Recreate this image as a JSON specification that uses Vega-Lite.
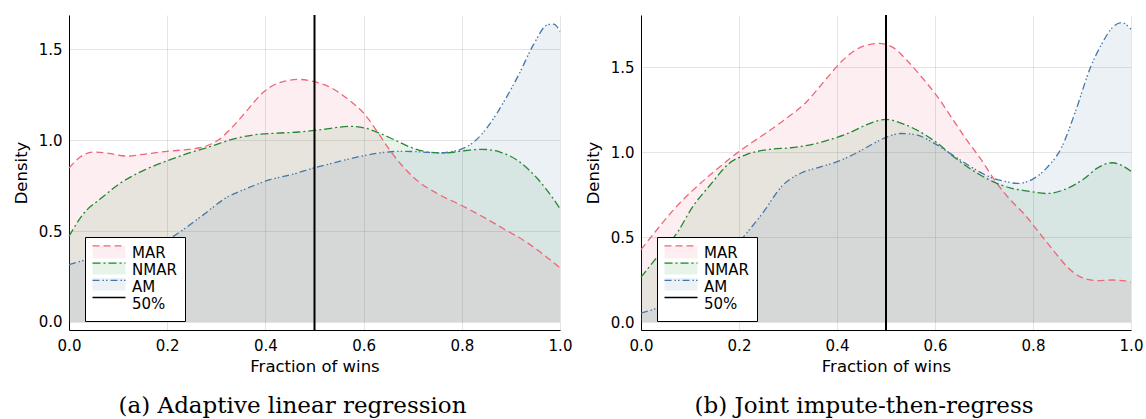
{
  "$schema": "https://vega.github.io/schema/vega-lite/v6.json",
  "padding": {"left": 13, "top": 14, "right": 0, "bottom": 0},
  "autosize": {"type": "pad"},
  "background": "white",
  "spacing": 13,
  "config": {
    "view": {"stroke": null},
    "axis": {
      "domainColor": "black", "domainWidth": 1, "grid": true, "gridColor": "black", "gridOpacity": 0.1, "gridWidth": 1,
      "ticks": false, "labelFont": "DejaVu Sans", "labelFontSize": 15, "labelColor": "black",
      "titleFont": "DejaVu Sans", "titleFontSize": 16.5, "titleFontWeight": "normal", "titleColor": "black",
      "labelPadding": 7, "labelOverlap": false, "labelFlush": false
    },
    "title": {"font": "DejaVu Serif", "fontSize": 23, "fontWeight": "normal", "color": "black"}
  },
  "datasets": {
    "a": [
      {"x":0,"y":0.846,"s":"MAR"},{"x":0.028,"y":0.916,"s":"MAR"},{"x":0.05,"y":0.934,"s":"MAR"},{"x":0.08,"y":0.927,"s":"MAR"},{"x":0.118,"y":0.912,"s":"MAR"},{"x":0.155,"y":0.923,"s":"MAR"},{"x":0.2,"y":0.938,"s":"MAR"},{"x":0.245,"y":0.949,"s":"MAR"},{"x":0.274,"y":0.962,"s":"MAR"},{"x":0.304,"y":1.0,"s":"MAR"},{"x":0.334,"y":1.075,"s":"MAR"},{"x":0.364,"y":1.167,"s":"MAR"},{"x":0.394,"y":1.258,"s":"MAR"},{"x":0.424,"y":1.311,"s":"MAR"},{"x":0.468,"y":1.333,"s":"MAR"},{"x":0.498,"y":1.322,"s":"MAR"},{"x":0.528,"y":1.295,"s":"MAR"},{"x":0.565,"y":1.231,"s":"MAR"},{"x":0.603,"y":1.139,"s":"MAR"},{"x":0.632,"y":1.029,"s":"MAR"},{"x":0.655,"y":0.938,"s":"MAR"},{"x":0.677,"y":0.864,"s":"MAR"},{"x":0.707,"y":0.782,"s":"MAR"},{"x":0.752,"y":0.703,"s":"MAR"},{"x":0.796,"y":0.645,"s":"MAR"},{"x":0.841,"y":0.581,"s":"MAR"},{"x":0.886,"y":0.511,"s":"MAR"},{"x":0.931,"y":0.44,"s":"MAR"},{"x":0.975,"y":0.352,"s":"MAR"},{"x":1.0,"y":0.297,"s":"MAR"},
      {"x":0,"y":0.471,"s":"NMAR"},{"x":0.028,"y":0.59,"s":"NMAR"},{"x":0.066,"y":0.681,"s":"NMAR"},{"x":0.103,"y":0.76,"s":"NMAR"},{"x":0.155,"y":0.837,"s":"NMAR"},{"x":0.2,"y":0.886,"s":"NMAR"},{"x":0.245,"y":0.929,"s":"NMAR"},{"x":0.289,"y":0.965,"s":"NMAR"},{"x":0.334,"y":1.005,"s":"NMAR"},{"x":0.379,"y":1.029,"s":"NMAR"},{"x":0.424,"y":1.038,"s":"NMAR"},{"x":0.468,"y":1.044,"s":"NMAR"},{"x":0.513,"y":1.057,"s":"NMAR"},{"x":0.573,"y":1.075,"s":"NMAR"},{"x":0.603,"y":1.066,"s":"NMAR"},{"x":0.632,"y":1.038,"s":"NMAR"},{"x":0.662,"y":1.002,"s":"NMAR"},{"x":0.7,"y":0.956,"s":"NMAR"},{"x":0.737,"y":0.932,"s":"NMAR"},{"x":0.767,"y":0.929,"s":"NMAR"},{"x":0.804,"y":0.941,"s":"NMAR"},{"x":0.841,"y":0.949,"s":"NMAR"},{"x":0.878,"y":0.934,"s":"NMAR"},{"x":0.916,"y":0.883,"s":"NMAR"},{"x":0.953,"y":0.791,"s":"NMAR"},{"x":0.983,"y":0.69,"s":"NMAR"},{"x":1.0,"y":0.623,"s":"NMAR"},
      {"x":0,"y":0.315,"s":"AM"},{"x":0.028,"y":0.337,"s":"AM"},{"x":0.07,"y":0.36,"s":"AM"},{"x":0.12,"y":0.39,"s":"AM"},{"x":0.17,"y":0.42,"s":"AM"},{"x":0.207,"y":0.462,"s":"AM"},{"x":0.237,"y":0.516,"s":"AM"},{"x":0.274,"y":0.59,"s":"AM"},{"x":0.319,"y":0.681,"s":"AM"},{"x":0.364,"y":0.736,"s":"AM"},{"x":0.409,"y":0.782,"s":"AM"},{"x":0.453,"y":0.81,"s":"AM"},{"x":0.498,"y":0.846,"s":"AM"},{"x":0.543,"y":0.877,"s":"AM"},{"x":0.588,"y":0.907,"s":"AM"},{"x":0.632,"y":0.929,"s":"AM"},{"x":0.677,"y":0.938,"s":"AM"},{"x":0.722,"y":0.934,"s":"AM"},{"x":0.752,"y":0.929,"s":"AM"},{"x":0.796,"y":0.947,"s":"AM"},{"x":0.826,"y":0.993,"s":"AM"},{"x":0.856,"y":1.084,"s":"AM"},{"x":0.886,"y":1.212,"s":"AM"},{"x":0.916,"y":1.359,"s":"AM"},{"x":0.946,"y":1.524,"s":"AM"},{"x":0.975,"y":1.634,"s":"AM"},{"x":0.987,"y":1.637,"s":"AM"},{"x":1.0,"y":1.597,"s":"AM"}
    ],
    "b": [
      {"x":0,"y":0.426,"s":"MAR"},{"x":0.03,"y":0.534,"s":"MAR"},{"x":0.067,"y":0.662,"s":"MAR"},{"x":0.104,"y":0.77,"s":"MAR"},{"x":0.142,"y":0.868,"s":"MAR"},{"x":0.179,"y":0.956,"s":"MAR"},{"x":0.201,"y":1.005,"s":"MAR"},{"x":0.246,"y":1.094,"s":"MAR"},{"x":0.291,"y":1.186,"s":"MAR"},{"x":0.336,"y":1.29,"s":"MAR"},{"x":0.38,"y":1.437,"s":"MAR"},{"x":0.41,"y":1.535,"s":"MAR"},{"x":0.447,"y":1.614,"s":"MAR"},{"x":0.485,"y":1.639,"s":"MAR"},{"x":0.515,"y":1.614,"s":"MAR"},{"x":0.544,"y":1.535,"s":"MAR"},{"x":0.574,"y":1.437,"s":"MAR"},{"x":0.604,"y":1.329,"s":"MAR"},{"x":0.634,"y":1.202,"s":"MAR"},{"x":0.664,"y":1.074,"s":"MAR"},{"x":0.694,"y":0.956,"s":"MAR"},{"x":0.723,"y":0.829,"s":"MAR"},{"x":0.753,"y":0.721,"s":"MAR"},{"x":0.783,"y":0.632,"s":"MAR"},{"x":0.813,"y":0.524,"s":"MAR"},{"x":0.843,"y":0.416,"s":"MAR"},{"x":0.872,"y":0.318,"s":"MAR"},{"x":0.902,"y":0.259,"s":"MAR"},{"x":0.932,"y":0.243,"s":"MAR"},{"x":0.962,"y":0.247,"s":"MAR"},{"x":1.0,"y":0.236,"s":"MAR"},
      {"x":0,"y":0.263,"s":"NMAR"},{"x":0.037,"y":0.397,"s":"NMAR"},{"x":0.075,"y":0.53,"s":"NMAR"},{"x":0.104,"y":0.672,"s":"NMAR"},{"x":0.142,"y":0.809,"s":"NMAR"},{"x":0.179,"y":0.931,"s":"NMAR"},{"x":0.216,"y":0.986,"s":"NMAR"},{"x":0.261,"y":1.015,"s":"NMAR"},{"x":0.306,"y":1.025,"s":"NMAR"},{"x":0.343,"y":1.041,"s":"NMAR"},{"x":0.38,"y":1.068,"s":"NMAR"},{"x":0.425,"y":1.113,"s":"NMAR"},{"x":0.47,"y":1.172,"s":"NMAR"},{"x":0.5,"y":1.192,"s":"NMAR"},{"x":0.529,"y":1.172,"s":"NMAR"},{"x":0.567,"y":1.123,"s":"NMAR"},{"x":0.604,"y":1.054,"s":"NMAR"},{"x":0.641,"y":0.966,"s":"NMAR"},{"x":0.679,"y":0.888,"s":"NMAR"},{"x":0.716,"y":0.829,"s":"NMAR"},{"x":0.753,"y":0.789,"s":"NMAR"},{"x":0.79,"y":0.77,"s":"NMAR"},{"x":0.828,"y":0.756,"s":"NMAR"},{"x":0.865,"y":0.78,"s":"NMAR"},{"x":0.902,"y":0.838,"s":"NMAR"},{"x":0.932,"y":0.907,"s":"NMAR"},{"x":0.962,"y":0.937,"s":"NMAR"},{"x":0.984,"y":0.917,"s":"NMAR"},{"x":1.0,"y":0.887,"s":"NMAR"},
      {"x":0,"y":0.053,"s":"AM"},{"x":0.034,"y":0.082,"s":"AM"},{"x":0.08,"y":0.13,"s":"AM"},{"x":0.12,"y":0.22,"s":"AM"},{"x":0.16,"y":0.33,"s":"AM"},{"x":0.209,"y":0.5,"s":"AM"},{"x":0.246,"y":0.632,"s":"AM"},{"x":0.291,"y":0.809,"s":"AM"},{"x":0.328,"y":0.878,"s":"AM"},{"x":0.365,"y":0.911,"s":"AM"},{"x":0.403,"y":0.946,"s":"AM"},{"x":0.44,"y":0.995,"s":"AM"},{"x":0.477,"y":1.054,"s":"AM"},{"x":0.507,"y":1.094,"s":"AM"},{"x":0.529,"y":1.109,"s":"AM"},{"x":0.559,"y":1.103,"s":"AM"},{"x":0.597,"y":1.054,"s":"AM"},{"x":0.634,"y":0.986,"s":"AM"},{"x":0.671,"y":0.917,"s":"AM"},{"x":0.708,"y":0.858,"s":"AM"},{"x":0.746,"y":0.825,"s":"AM"},{"x":0.768,"y":0.815,"s":"AM"},{"x":0.798,"y":0.838,"s":"AM"},{"x":0.828,"y":0.907,"s":"AM"},{"x":0.858,"y":1.025,"s":"AM"},{"x":0.887,"y":1.241,"s":"AM"},{"x":0.917,"y":1.496,"s":"AM"},{"x":0.94,"y":1.634,"s":"AM"},{"x":0.962,"y":1.732,"s":"AM"},{"x":0.981,"y":1.761,"s":"AM"},{"x":1.0,"y":1.722,"s":"AM"}
    ],
    "ref": [{"x": 0.5, "s": "50%"}]
  },
  "resolve": {
    "scale": {"x": "independent", "y": "independent", "fill": "independent", "stroke": "independent", "strokeDash": "independent"},
    "legend": {"fill": "independent", "stroke": "independent", "strokeDash": "independent"}
  },
  "hconcat": [
    {
      "width": 491, "height": 315,
      "title": {"text": "(a) Adaptive linear regression", "orient": "bottom", "anchor": "middle", "frame": "bounds", "offset": 20},
      "layer": [
        {
          "data": {"name": "a"},
          "mark": {"type": "area", "fillOpacity": 0.1, "interpolate": "monotone"},
          "encoding": {
            "x": {"field": "x", "type": "quantitative", "scale": {"domain": [0, 1], "nice": false}, "axis": {"title": "Fraction of wins", "values": [0, 0.2, 0.4, 0.6, 0.8, 1], "format": ".1f", "labelPadding": 8, "titlePadding": 5}},
            "y": {"field": "y", "type": "quantitative", "stack": null, "scale": {"domain": [-0.044, 1.687], "nice": false, "zero": false}, "axis": {"title": "Density", "values": [0, 0.5, 1, 1.5], "format": ".1f", "titlePadding": 9}},
            "y2": {"datum": 0},
            "fill": {"field": "s", "type": "nominal", "scale": {"domain": ["MAR", "NMAR", "AM", " "], "range": ["#EE6677", "#228833", "#4477AA", "transparent"]},
              "legend": {"orient": "none", "legendX": 16, "legendY": 222, "title": null, "symbolType": "M-2.75,-1.1L2.75,-1.1L2.75,1L-2.75,1Z", "symbolSize": 144, "symbolOpacity": 0.1, "symbolStrokeWidth": 0, "symbolOffset": 8.5, "labelExpr": "'\u00a0'", "labelOffset": 15.5, "labelFont": "DejaVu Sans", "labelFontSize": 15, "padding": 8, "rowPadding": -0.8, "zindex": 1}}
          }
        },
        {
          "data": {"name": "a"},
          "mark": {"type": "line", "strokeWidth": 1.3, "interpolate": "monotone"},
          "encoding": {
            "x": {"field": "x", "type": "quantitative"},
            "y": {"field": "y", "type": "quantitative"},
            "stroke": {"field": "s", "type": "nominal", "scale": {"domain": ["MAR", "NMAR", "AM", "50%"], "range": ["#EE6677", "#228833", "#4477AA", "#000000"]},
              "legend": {"orient": "none", "legendX": 16, "legendY": 222, "title": null, "symbolType": "M-2.75,-1.1L2.75,-1.1", "symbolSize": 144, "symbolStrokeWidth": 1.3, "symbolFillColor": "transparent", "symbolOffset": 8.5, "labelOffset": 15.5, "labelFont": "DejaVu Sans", "labelFontSize": 15, "labelColor": "black", "padding": 8, "rowPadding": -0.8, "fillColor": "white", "strokeColor": "black", "cornerRadius": 0, "zindex": 0}},
            "strokeDash": {"field": "s", "type": "nominal", "scale": {"domain": ["MAR", "NMAR", "AM", "50%"], "range": [[7, 4], [8, 3, 2, 3], [7, 3, 1.5, 2, 1.5, 3], [1, 0]]}}
          }
        },
        {
          "data": {"name": "ref"},
          "mark": {"type": "rule", "strokeWidth": 2},
          "encoding": {
            "x": {"field": "x", "type": "quantitative"},
            "stroke": {"field": "s", "type": "nominal"}
          }
        }
      ]
    },
    {
      "width": 490, "height": 315,
      "title": {"text": "(b) Joint impute-then-regress", "orient": "bottom", "anchor": "middle", "frame": "bounds", "offset": 20},
      "layer": [
        {
          "data": {"name": "b"},
          "mark": {"type": "area", "fillOpacity": 0.1, "interpolate": "monotone"},
          "encoding": {
            "x": {"field": "x", "type": "quantitative", "scale": {"domain": [0, 1], "nice": false}, "axis": {"title": "Fraction of wins", "values": [0, 0.2, 0.4, 0.6, 0.8, 1], "format": ".1f", "labelPadding": 8, "titlePadding": 5}},
            "y": {"field": "y", "type": "quantitative", "stack": null, "scale": {"domain": [-0.047, 1.806], "nice": false, "zero": false}, "axis": {"title": "Density", "values": [0, 0.5, 1, 1.5], "format": ".1f", "titlePadding": 9}},
            "y2": {"datum": 0},
            "fill": {"field": "s", "type": "nominal", "scale": {"domain": ["MAR", "NMAR", "AM", " "], "range": ["#EE6677", "#228833", "#4477AA", "transparent"]},
              "legend": {"orient": "none", "legendX": 16, "legendY": 222, "title": null, "symbolType": "M-2.75,-1.1L2.75,-1.1L2.75,1L-2.75,1Z", "symbolSize": 144, "symbolOpacity": 0.1, "symbolStrokeWidth": 0, "symbolOffset": 8.5, "labelExpr": "'\u00a0'", "labelOffset": 15.5, "labelFont": "DejaVu Sans", "labelFontSize": 15, "padding": 8, "rowPadding": -0.8, "zindex": 1}}
          }
        },
        {
          "data": {"name": "b"},
          "mark": {"type": "line", "strokeWidth": 1.3, "interpolate": "monotone"},
          "encoding": {
            "x": {"field": "x", "type": "quantitative"},
            "y": {"field": "y", "type": "quantitative"},
            "stroke": {"field": "s", "type": "nominal", "scale": {"domain": ["MAR", "NMAR", "AM", "50%"], "range": ["#EE6677", "#228833", "#4477AA", "#000000"]},
              "legend": {"orient": "none", "legendX": 16, "legendY": 222, "title": null, "symbolType": "M-2.75,-1.1L2.75,-1.1", "symbolSize": 144, "symbolStrokeWidth": 1.3, "symbolFillColor": "transparent", "symbolOffset": 8.5, "labelOffset": 15.5, "labelFont": "DejaVu Sans", "labelFontSize": 15, "labelColor": "black", "padding": 8, "rowPadding": -0.8, "fillColor": "white", "strokeColor": "black", "cornerRadius": 0, "zindex": 0}},
            "strokeDash": {"field": "s", "type": "nominal", "scale": {"domain": ["MAR", "NMAR", "AM", "50%"], "range": [[7, 4], [8, 3, 2, 3], [7, 3, 1.5, 2, 1.5, 3], [1, 0]]}}
          }
        },
        {
          "data": {"name": "ref"},
          "mark": {"type": "rule", "strokeWidth": 2},
          "encoding": {
            "x": {"field": "x", "type": "quantitative"},
            "stroke": {"field": "s", "type": "nominal"}
          }
        }
      ]
    }
  ]
}
